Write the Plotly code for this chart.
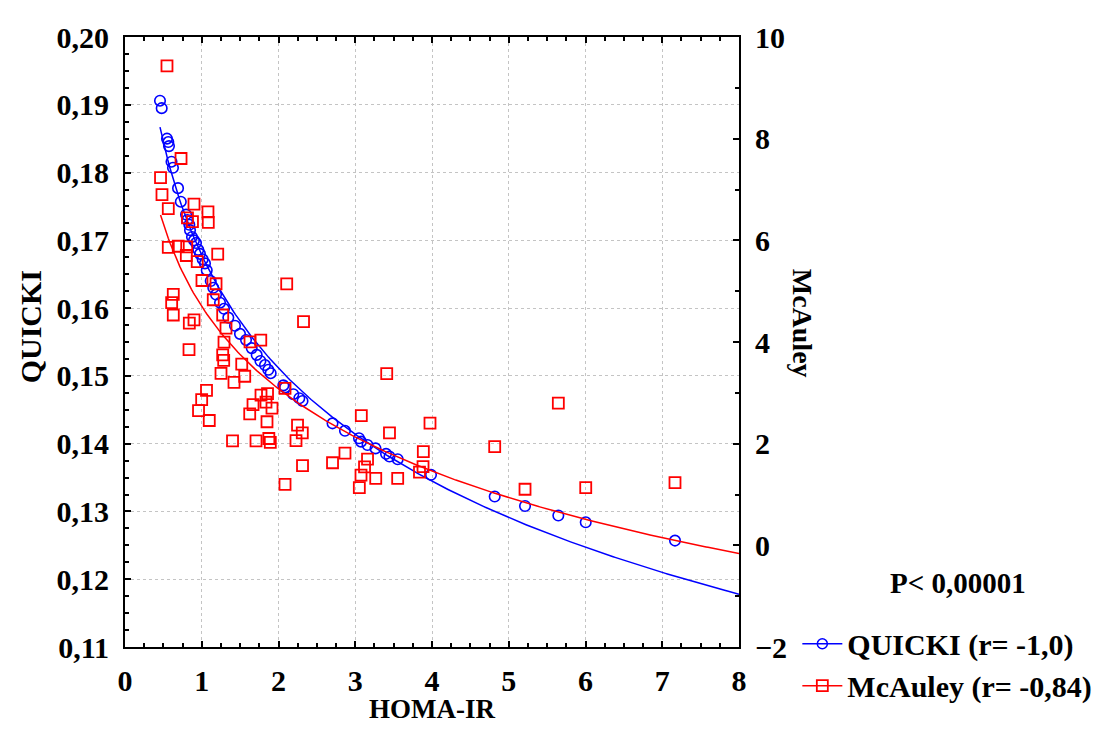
import numpy as np
import plotly.graph_objects as go

# ---- data ----
homa_q = [0.456, 0.478, 0.547, 0.564, 0.573, 0.606, 0.625, 0.691, 0.727, 0.795,
          0.812, 0.838, 0.847, 0.873, 0.899, 0.925, 0.955, 0.977, 1.012, 1.042,
          1.065, 1.117, 1.150, 1.186, 1.238, 1.290, 1.346, 1.433, 1.498, 1.577,
          1.651, 1.716, 1.765, 1.824, 1.867, 1.898, 2.063, 2.085, 2.193, 2.271,
          2.313, 2.704, 2.866, 3.049, 3.075, 3.160, 3.264, 3.401, 3.446, 3.553,
          3.987, 4.817, 5.212, 5.646, 6.003, 7.166]
quicki = [0.1906, 0.1895, 0.1850, 0.1845, 0.1839, 0.1816, 0.1807, 0.1777, 0.1757, 0.1738,
          0.1730, 0.1723, 0.1715, 0.1705, 0.1700, 0.1696, 0.1686, 0.1680, 0.1672, 0.1666,
          0.1656, 0.1640, 0.1630, 0.1620, 0.1608, 0.1599, 0.1586, 0.1574, 0.1562, 0.1553,
          0.1541, 0.1531, 0.1522, 0.1516, 0.1509, 0.1504, 0.1486, 0.1483, 0.1473, 0.1467,
          0.1463, 0.1430, 0.1419, 0.1408, 0.1403, 0.1398, 0.1393, 0.1385, 0.1381, 0.1377,
          0.1354, 0.1322, 0.1308, 0.1294, 0.1284, 0.1257]

homa_m = [0.547, 0.730, 0.463, 0.482, 0.564, 0.899, 1.081, 0.814, 0.879, 1.085,
          0.564, 0.694, 0.804, 0.799, 1.208, 0.941, 1.003, 1.186, 2.107, 0.629,
          0.608, 1.150, 0.629, 0.899, 0.838, 1.273, 1.316, 2.326, 1.629, 1.769,
          1.290, 0.834, 1.273, 1.286, 1.521, 1.251, 1.560, 1.420, 1.062, 0.999,
          0.958, 1.098, 2.085, 1.772, 1.857, 1.668, 1.837, 1.915, 1.625, 1.850,
          1.401, 1.707, 1.874, 1.893, 2.248, 2.310, 2.228, 2.313, 2.085, 3.079,
          3.446, 3.974, 2.866, 2.704, 3.160, 3.121, 3.075, 3.267, 3.053, 3.553,
          3.887, 3.883, 3.837, 4.817, 5.212, 5.646, 6.003, 7.166, 3.410]
mcauley = [9.432, 7.610, 7.233, 6.900, 6.624, 6.711, 6.560, 6.441, 6.369, 6.354,
           5.861, 5.884, 5.871, 5.702, 5.729, 5.581, 5.210, 5.146, 5.142, 4.937,
           4.775, 4.831, 4.531, 4.435, 4.373, 4.531, 4.272, 4.402, 4.002, 4.035,
           3.996, 3.851, 3.745, 3.639, 3.565, 3.384, 3.326, 3.204, 3.049, 2.866,
           2.649, 2.456, 3.088, 2.953, 2.986, 2.769, 2.817, 2.701, 2.586, 2.431,
           2.054, 2.054, 2.102, 2.025, 2.363, 2.213, 2.058, 1.567, 1.200, 2.553,
           2.213, 2.406, 1.813, 1.625, 1.697, 1.542, 1.382, 1.316, 1.136, 1.316,
           1.845, 1.548, 1.442, 1.942, 1.103, 2.798, 1.136, 1.233, 3.378]

x_ticks = [0, 1, 2, 3, 4, 5, 6, 7, 8]
label_q = "QUICKI (r= -1,0)"
label_m = "McAuley (r= -0,84)"
p_text = "P< 0,00001"

BLUE = "#0000FF"
RED = "#FF0000"
FONT = "Liberation Serif"

# logarithmic fits y = a + b ln(x)
bq, aq = np.polyfit(np.log(homa_q), quicki, 1)
bm, am = np.polyfit(np.log(homa_m), mcauley, 1)
xq = np.linspace(min(homa_q), 8, 300)
xm = np.linspace(min(homa_m), 8, 300)

fig = go.Figure()
fig.add_trace(go.Scatter(x=xm, y=am + bm * np.log(xm), mode="lines", yaxis="y2",
                         line=dict(color=RED, width=1.5), showlegend=False, hoverinfo="skip"))
fig.add_trace(go.Scatter(x=homa_m, y=mcauley, mode="markers", yaxis="y2",
                         marker=dict(symbol="square-open", size=11, color=RED, line=dict(width=1.8)),
                         showlegend=False))
fig.add_trace(go.Scatter(x=xq, y=aq + bq * np.log(xq), mode="lines",
                         line=dict(color=BLUE, width=1.5), showlegend=False, hoverinfo="skip"))
fig.add_trace(go.Scatter(x=homa_q, y=quicki, mode="markers",
                         marker=dict(symbol="circle-open", size=10.5, color=BLUE, line=dict(width=1.6)),
                         showlegend=False))
# legend entries
fig.add_trace(go.Scatter(x=[None], y=[None], mode="lines+markers", name=label_q,
                         line=dict(color=BLUE, width=1.5),
                         marker=dict(symbol="circle-open", size=10, color=BLUE, line=dict(width=1.5))))
fig.add_trace(go.Scatter(x=[None], y=[None], mode="lines+markers", name=label_m, yaxis="y2",
                         line=dict(color=RED, width=1.5),
                         marker=dict(symbol="square-open", size=11, color=RED, line=dict(width=1.8))))

tickfont = dict(family=FONT, size=30, color="black", weight="bold")
axis_common = dict(showline=True, linecolor="black", linewidth=2, ticks="inside",
                   ticklen=6, tickwidth=1.5, tickcolor="black", tickfont=tickfont, zeroline=False)


def title_font(size):
    return dict(family=FONT, size=size, color="black", weight="bold")


fig.update_layout(
    width=1102, height=727, autosize=False,
    margin=dict(l=117, r=371, t=18, b=88),
    paper_bgcolor="white", plot_bgcolor="white",
    separators=", ",
    xaxis=dict(range=[0, 8], tickvals=x_ticks, mirror="ticks",
               showgrid=True, gridcolor="#c4c4c4", griddash="dot", gridwidth=1,
               minor=dict(dtick=0.25, ticks="inside", ticklen=4, tickcolor="black", showgrid=False),
               ticklabelstandoff=6, **axis_common),
    yaxis=dict(range=[0.11, 0.20], dtick=0.01, tickformat=".2f",
               showgrid=True, gridcolor="#c4c4c4", griddash="dot", gridwidth=1,
               minor=dict(dtick=0.0025, ticks="inside", ticklen=4, tickcolor="black", showgrid=False),
               ticklabelstandoff=8, **axis_common),
    yaxis2=dict(range=[-2, 10], dtick=2, overlaying="y", side="right", showgrid=False,
                minor=dict(dtick=1, ticks="inside", ticklen=4, tickcolor="black", showgrid=False),
                ticklabelstandoff=8, **axis_common),
    legend=dict(x=1.095, y=0.048, xanchor="left", yanchor="top",
                font=title_font(30),
                bgcolor="rgba(0,0,0,0)", itemwidth=40, tracegroupgap=0),
    showlegend=True,
    annotations=[
        dict(text="QUICKI", xref="paper", yref="paper", x=-0.1547, y=0.524, showarrow=False,
             xanchor="center", yanchor="middle", textangle=-90, font=title_font(30)),
        dict(text="McAuley", xref="paper", yref="paper", x=1.1026, y=0.530, showarrow=False,
             xanchor="center", yanchor="middle", textangle=90, font=title_font(28)),
        dict(text="HOMA-IR", xref="paper", yref="paper", x=0.5, y=-0.101, showarrow=False,
             xanchor="center", yanchor="middle", font=title_font(27)),
        dict(text=p_text, xref="paper", yref="paper", x=1.3567, y=0.1052, showarrow=False,
             xanchor="center", yanchor="middle", font=title_font(29)),
    ],
)

fig.write_html("out.html")
